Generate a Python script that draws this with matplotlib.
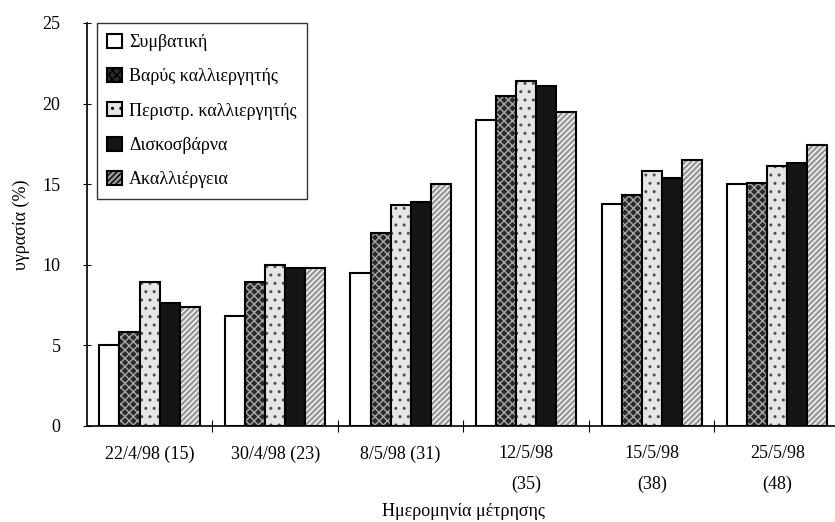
import numpy as np
import matplotlib.pyplot as plt
from matplotlib.patches import Patch

plt.rcParams['font.family'] = ['Liberation Serif', 'DejaVu Serif']
plt.rcParams['hatch.linewidth'] = 1.0

# data
dates = ["22/4/98 (15)", "30/4/98 (23)", "8/5/98 (31)",
         "12/5/98\n(35)", "15/5/98\n(38)", "25/5/98\n(48)"]
series_names = ["Συμβατική", "Βαρύς καλλιεργητής", "Περιστρ. καλλιεργητής",
                "Δισκοσβάρνα", "Ακαλλιέργεια"]
symvatiki = [5.0, 6.8, 9.5, 19.0, 13.8, 15.0]
varys = [5.8, 8.9, 12.0, 20.5, 14.3, 15.1]
peristr = [8.9, 10.0, 13.7, 21.4, 15.8, 16.1]
diskosvarna = [7.6, 9.8, 13.9, 21.1, 15.4, 16.3]
akalliergeia = [7.4, 9.8, 15.0, 19.5, 16.5, 17.4]

values = [symvatiki, varys, peristr, diskosvarna, akalliergeia]
# (facecolor, hatch colour, hatch)
styles = [("white", "white", None),
          ("#2a2a2a", "#a8a8a8", "xxxx"),
          ("#e6e6e6", "#505050", ".."),
          ("#151515", "#151515", None),
          ("#9a9a9a", "white", "//////")]

fig = plt.figure(figsize=(8.35, 5.22), dpi=100)
ax = fig.add_axes([0.104, 0.184, 0.902, 0.772])

x = np.arange(len(dates))
width = 0.16
handles = []
for i, (vals, (fc, hc, hatch)) in enumerate(zip(values, styles)):
    pos = x + (i - 2) * width
    ax.bar(pos, vals, width, facecolor=fc, edgecolor=hc, hatch=hatch, linewidth=0)
    ax.bar(pos, vals, width, fill=False, edgecolor="black", linewidth=1.5)
    handles.append(Patch(facecolor=fc, edgecolor="black", hatch=hatch, linewidth=1.5))

ax.set_xlim(-0.5, len(dates) - 0.5)
ax.set_ylim(0, 25)
ax.set_yticks([0, 5, 10, 15, 20, 25])
ax.tick_params(axis="y", direction="inout", length=6, width=0.8, labelsize=13, pad=16)
ax.set_xticks(x)
ax.set_xticklabels(dates, linespacing=2.0)
ax.tick_params(axis="x", which="major", length=0, labelsize=13, pad=14)
ax.set_xticks(x[:-1] + 0.5, minor=True)
ax.tick_params(axis="x", which="minor", direction="inout", length=8, width=0.8)

for s in ["top", "right"]:
    ax.spines[s].set_visible(False)
ax.spines["left"].set_linewidth(1.2)
ax.spines["bottom"].set_linewidth(1.2)

ax.set_ylabel("υγρασία (%)", fontsize=13, labelpad=9)
ax.set_xlabel("Ημερομηνία μέτρησης", fontsize=13, labelpad=7)

leg = ax.legend(handles, series_names, loc="upper left", bbox_to_anchor=(0.013, 1.0),
                fontsize=13, frameon=True, fancybox=False, edgecolor="black",
                handlelength=0.8, handleheight=0.8, handletextpad=0.4,
                labelspacing=0.95, borderpad=0.6, borderaxespad=0)
leg.get_frame().set_linewidth(1.0)

fig.savefig("out.png", dpi=100)
